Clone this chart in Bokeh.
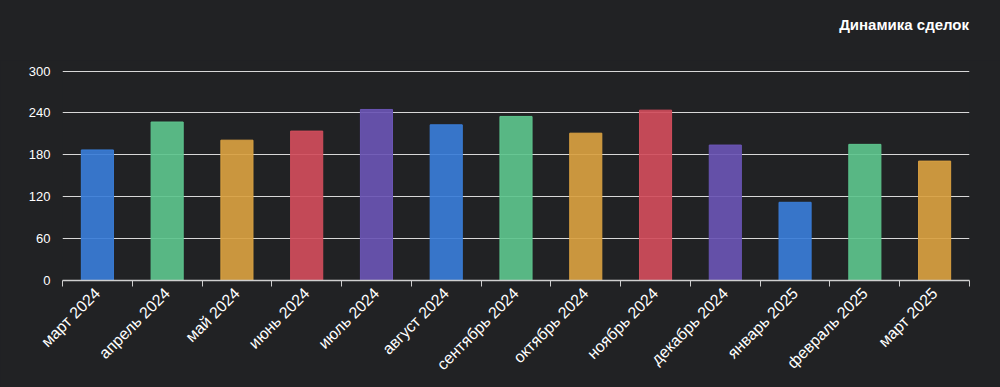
import math
from bokeh.plotting import figure
from bokeh.models import ColumnDataSource, FixedTicker, Range1d, Div
from bokeh.layouts import column
from bokeh.embed import file_html
from bokeh.resources import INLINE

months = ["март 2024", "апрель 2024", "май 2024", "июнь 2024", "июль 2024",
          "август 2024", "сентябрь 2024", "октябрь 2024", "ноябрь 2024",
          "декабрь 2024", "январь 2025", "февраль 2025", "март 2025"]
deals = [187, 227, 201, 214, 245, 223, 235, 211, 244, 194, 112, 195, 171]
palette = ["#3a7dd8", "#5dc48d", "#d9a141", "#d14d5c", "#6a55b4"]
y_ticks = [0, 60, 120, 180, 240, 300]
title_text = "Динамика сделок"

BG = "#212224"
FONT = "Liberation Sans"

xs = [i + 0.5 for i in range(len(months))]
colors = [palette[i % len(palette)] for i in range(len(months))]
src = ColumnDataSource(dict(x=xs, y=deals, color=colors, label=months))

header = Div(text=title_text, width=969, height=60, margin=(0, 0, 0, 0),
             styles={"font-family": FONT, "font-size": "15px", "font-weight": "bold",
                     "color": "white", "text-align": "right", "line-height": "50px",
                     "background": BG})

p = figure(width=1000, height=327, output_backend="svg", toolbar_location=None,
           x_range=Range1d(0, len(months)), y_range=Range1d(0, y_ticks[-1] + 0.8),
           min_border_left=62, min_border_right=31, min_border_top=10,
           min_border_bottom=107, margin=(0, 0, 0, 0))

p.background_fill_color = BG
p.border_fill_color = BG
p.outline_line_color = None
p.outline_line_alpha = 0

p.vbar(x="x", top="y", width=0.46, bottom=0, source=src,
       fill_color="color", fill_alpha=0.92, line_color="color", line_alpha=1.0)

# y axis
p.yaxis.ticker = FixedTicker(ticks=y_ticks)
p.yaxis.axis_line_color = None
p.yaxis.major_tick_line_color = None
p.yaxis.major_tick_out = 0
p.yaxis.major_tick_in = 0
p.yaxis.minor_tick_line_color = None
p.yaxis.major_label_text_color = "white"
p.yaxis.major_label_text_font = FONT
p.yaxis.major_label_text_font_size = "13px"
p.yaxis.major_label_standoff = 12

# x axis
p.xaxis.ticker = FixedTicker(ticks=xs, minor_ticks=list(range(len(months) + 1)))
p.xaxis.major_label_overrides = {x: m for x, m in zip(xs, months)}
p.xaxis.major_label_orientation = math.pi / 4
p.xaxis.major_label_text_color = "white"
p.xaxis.major_label_text_font = FONT
p.xaxis.major_label_text_font_size = "16px"
p.xaxis.major_label_standoff = 4
p.xaxis.major_tick_line_color = None
p.xaxis.major_tick_out = 4
p.xaxis.axis_line_color = "#cfcfcf"
p.xaxis.axis_line_width = 1.5
p.xaxis.minor_tick_line_color = "#cfcfcf"
p.xaxis.minor_tick_out = 6
p.xaxis.minor_tick_in = 0

p.xgrid.grid_line_color = None
p.ygrid.grid_line_color = "#d8d8d8"
p.ygrid.grid_line_width = 1.2

layout = column(header, p, spacing=0, styles={"background": BG})

html = file_html(layout, INLINE)
html = html.replace("<body>", '<body style="background:%s;margin:0;overflow:hidden;">' % BG, 1)
open("out.html", "w").write(html)
